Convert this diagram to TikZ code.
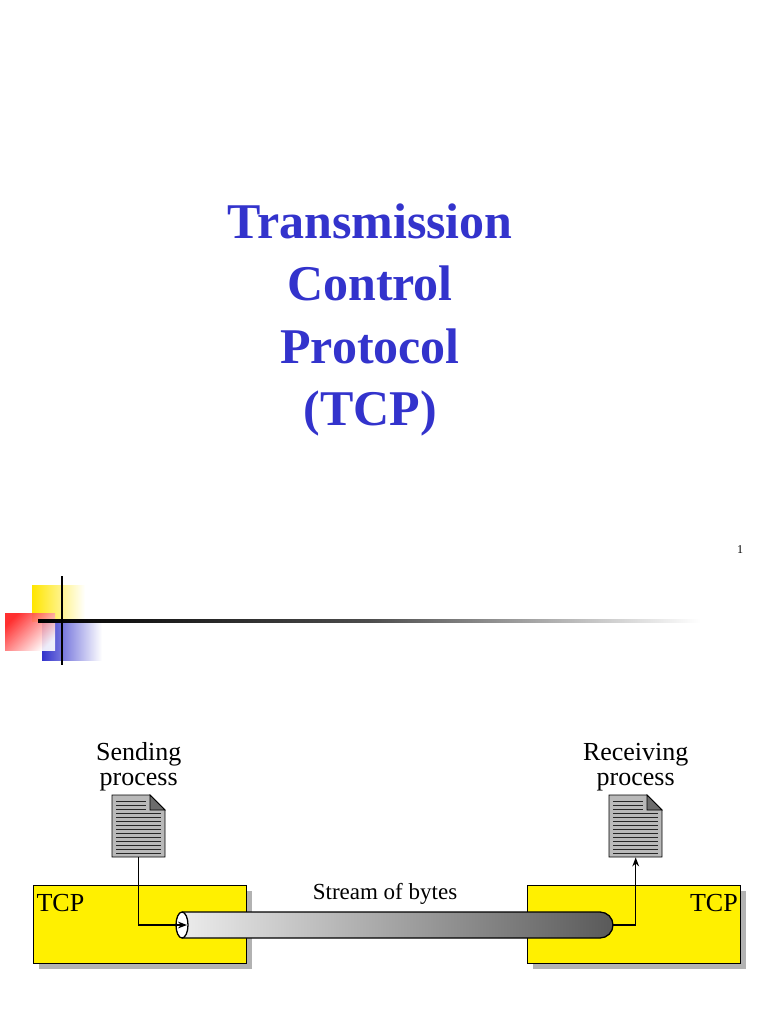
\documentclass[tikz,border=0pt]{standalone}
\usepackage{fontspec}
\setmainfont{Liberation Serif}
\usetikzlibrary{shadings,arrows.meta}
\definecolor{titleblue}{RGB}{51,51,204}
\definecolor{tcpyellow}{RGB}{255,240,0}
\tikzset{
	tcpbox/.style={draw,line width=1.3pt,fill=tcpyellow,minimum width=213pt,minimum height=78pt,anchor=north west},
	shadowbox/.style={fill=gray!60,minimum width=213pt,minimum height=78pt,anchor=north west},
	doc/.style={minimum width=53pt,minimum height=62pt,anchor=north west},
	lbl/.style={font=\fontsize{26}{25}\selectfont,align=center}
}
\begin{document}
\begin{tikzpicture}[x=1pt,y=-1pt]
	\useasboundingbox (0,0) rectangle (768,1024);
	
	% title
	\node [text=titleblue,font=\bfseries\fontsize{50}{62.5}\selectfont,align=center] (title) at (370,320)
		{Transmission\\Control\\Protocol\\(TCP)};
	\node [font=\fontsize{12}{14}\selectfont] (page) at (740,550) {1};
	
	% logo
	\shade[left color=yellow!80!orange,right color=white] (32,585) rectangle (85,621);
	\shade[left color=titleblue,right color=white] (42,621) rectangle (102,660);
	\shade[top color=red!90,bottom color=white,shading angle=45,opacity=.9] (5,613) rectangle (55,650);
	\shade[left color=black,right color=white,middle color=black!70] (38,619.5) rectangle (700,622.5);
	\draw[line width=2.5pt] (62,576) -- (62,665);
	
	% tcp boxes
	\foreach \x/\n in {33/lbox,527/rbox} {
		\node [shadowbox] at (\x+6,891) {};
		\node [tcpbox] (\n) at (\x,885) {};
	}
	\node [lbl,anchor=west] (ltcp) at ([yshift=-18pt]lbox.north west) {TCP};
	\node [lbl,anchor=east] (rtcp) at ([yshift=-18pt]rbox.north east) {TCP};
	
	% stream
	\shade[left color=gray!15,right color=black!65] (182,912) -- (600,912) arc[start angle=90,end angle=-90,radius=13pt] -- (182,938) -- cycle;
	\draw[line width=1.3pt] (182,912) -- (600,912) arc[start angle=90,end angle=-90,radius=13pt] -- (182,938);
	\draw[line width=1.3pt,fill=white] (182,925) ellipse (6 and 13);
	\coordinate (tubein) at (187,925);
	\coordinate (tubeout) at (613,925);
	\node [lbl,font=\fontsize{23}{24}\selectfont] (stream) at (385,894) {Stream of bytes};
	
	% documents
	\foreach \x/\n in {112/sdoc,609/rdoc} {
		\node [doc] (\n) at (\x,795) {};
		\draw[thick,fill=gray!55] (\x,795) -- (\x+38,795) -- (\x+53,810) -- (\x+53,857) -- (\x,857) -- cycle;
		\draw[thick,fill=gray!85!black] (\x+38,795) -- (\x+53,810) -- (\x+38,810) -- cycle;
		\foreach \y in {801,805,809}
			\draw[gray!30!black,thin] (\x+4,\y) -- (\x+34,\y);
		\foreach \y in {813,817,...,853}
			\draw[gray!30!black,thin] (\x+4,\y) -- (\x+49,\y);
	}
	\node [lbl,anchor=south] (send) at (sdoc.north) {Sending\\process};
	\node [lbl,anchor=south] (recv) at (rdoc.north) {Receiving\\process};
	
	% connectors
	\draw[line width=1.3pt,-{Stealth[length=9pt]}] (sdoc.south) |- (tubein);
	\draw[line width=1.3pt,-{Stealth[length=9pt]}] (tubeout) -| (rdoc.south);
\end{tikzpicture}
\end{document}
